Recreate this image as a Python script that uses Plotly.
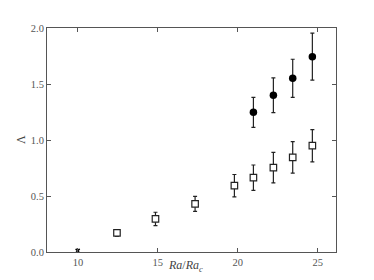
import plotly.graph_objects as go

# open squares
sq_x = [12.44, 14.85, 17.33, 19.79, 20.98, 22.23, 23.44, 24.67]
sq_y = [0.17, 0.295, 0.429, 0.592, 0.664, 0.753, 0.845, 0.949]
sq_err = [0.03, 0.06, 0.067, 0.1, 0.113, 0.136, 0.14, 0.144]

# filled circles
ci_x = [20.98, 22.23, 23.44, 24.67]
ci_y = [1.247, 1.399, 1.551, 1.744]
ci_err = [0.134, 0.155, 0.17, 0.21]

# single cross at onset
cr_x = [9.98]
cr_y = [0.01]

x_ticks = [10, 15, 20, 25]
y_ticks = [0.0, 0.5, 1.0, 1.5, 2.0]

font_serif = "Liberation Serif, Times New Roman, serif"

fig = go.Figure()

fig.add_trace(go.Scatter(
    x=sq_x, y=sq_y, mode="markers",
    error_y=dict(type="data", array=sq_err, color="#222", thickness=1.2, width=2),
    marker=dict(symbol="square", size=6.5, color="white",
                line=dict(color="#222", width=1.2)),
))

fig.add_trace(go.Scatter(
    x=ci_x, y=ci_y, mode="markers",
    error_y=dict(type="data", array=ci_err, color="#222", thickness=1.2, width=2),
    marker=dict(symbol="circle", size=7.5, color="black"),
))

fig.add_trace(go.Scatter(
    x=cr_x, y=cr_y, mode="markers",
    marker=dict(symbol="x-thin", size=4, line=dict(color="black", width=1.5)),
))

axis_common = dict(
    showgrid=False, zeroline=False, automargin=False,
    showline=True, linecolor="#555", linewidth=1, mirror="allticks",
    ticks="inside", ticklen=4, tickcolor="#555", tickwidth=1,
    tickfont=dict(family=font_serif, size=10.5, color="#555"),
)

fig.update_xaxes(
    range=[8.06, 26.15], tickvals=x_ticks, ticktext=[str(v) for v in x_ticks],
    **axis_common,
)
fig.update_yaxes(
    range=[0, 2.0], tickvals=y_ticks, ticktext=["%.1f" % v for v in y_ticks],
    **axis_common,
)

# axis titles as annotations for exact placement
fig.add_annotation(
    text="<i>Ra</i>/<i>Ra</i><sub><i>c</i></sub>", xref="paper", yref="paper",
    x=0.48, y=0, yshift=-14, yanchor="middle", showarrow=False,
    font=dict(family=font_serif, size=12, color="#444"),
)
fig.add_annotation(
    text="Λ", xref="paper", yref="paper", textangle=-90,
    x=0, xshift=-26, y=0.5, xanchor="center", showarrow=False,
    font=dict(family=font_serif, size=12, color="#444"),
)

# the page body adds an 8px offset, so margins are shifted to compensate
fig.update_layout(
    width=374, height=280,
    margin=dict(l=39, r=46, t=20, b=36),
    paper_bgcolor="white", plot_bgcolor="white",
    showlegend=False,
)

fig.write_html("out.html")
